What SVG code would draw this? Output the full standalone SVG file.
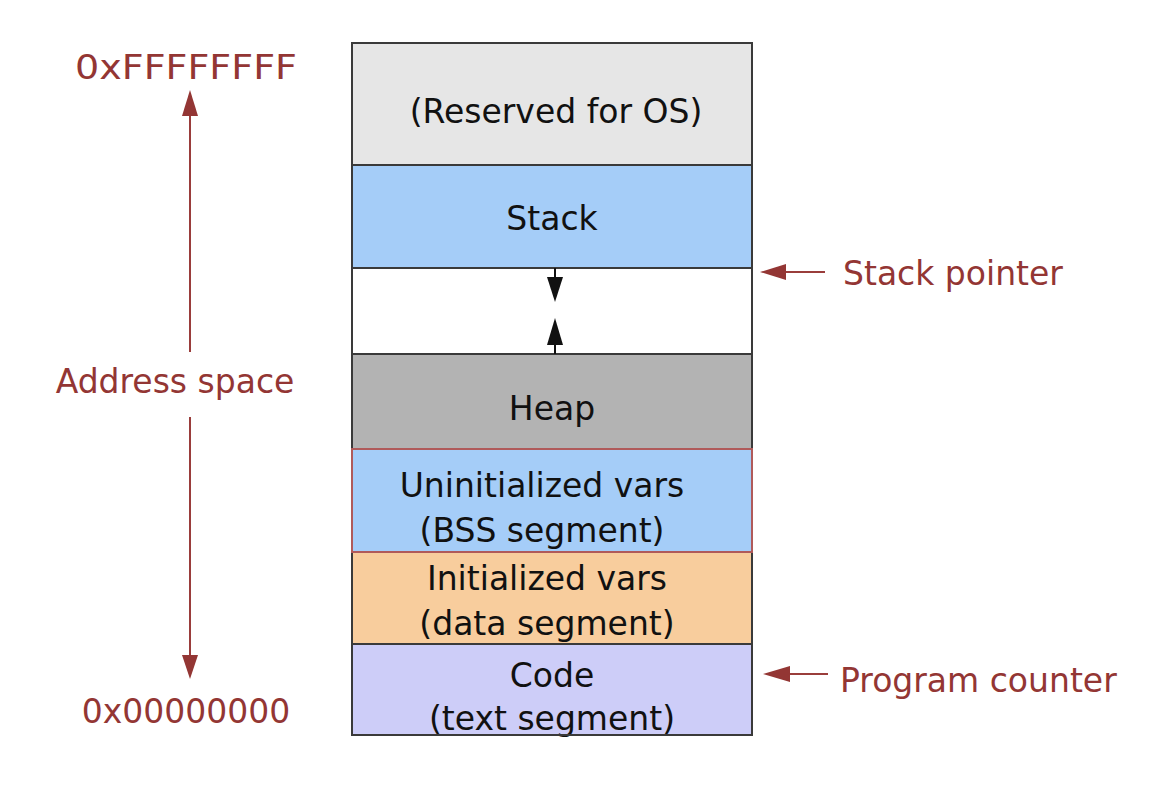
<svg xmlns="http://www.w3.org/2000/svg" width="1152" height="798" viewBox="0 0 1152 798">
<style>
.seg{stroke:#3a3a3a;stroke-width:2}
.lbl{font-family:"DejaVu Sans","Liberation Sans",sans-serif;font-size:33px;fill:#111;text-anchor:middle}
.red{font-family:"DejaVu Sans","Liberation Sans",sans-serif;font-size:33px;fill:#933634}
.rline{stroke:#9a3d3b;stroke-width:2;fill:none}
.rhead{fill:#933634}
.bline{stroke:#111;stroke-width:2}
.bhead{fill:#111}
</style>
<rect width="1152" height="798" fill="#ffffff"/>
<g id="memory">
<g id="reserved"><rect class="seg" x="352" y="43" width="400" height="122" fill="#e6e6e6"/><text class="lbl" x="556" y="123">(Reserved for OS)</text></g>
<g id="stack"><rect class="seg" x="352" y="165" width="400" height="103" fill="#a5cdf8"/><text class="lbl" x="552" y="230">Stack</text></g>
<g id="free"><rect class="seg" x="352" y="268" width="400" height="86" fill="#ffffff"/></g>
<g id="heap"><rect class="seg" x="352" y="354" width="400" height="95" fill="#b3b3b3"/><text class="lbl" x="552" y="420">Heap</text></g>
<g id="bss"><rect x="352" y="449" width="400" height="103" fill="#a5cdf8" stroke="#b05a5a" stroke-width="2"/><text class="lbl" x="542" y="497">Uninitialized vars</text><text class="lbl" x="542" y="542">(BSS segment)</text></g>
<g id="data"><rect class="seg" x="352" y="552" width="400" height="92" fill="#f8cd9d"/><text class="lbl" x="547" y="590">Initialized vars</text><text class="lbl" x="547" y="635">(data segment)</text></g>
<g id="code"><rect class="seg" x="352" y="644" width="400" height="91" fill="#cdcdf8"/><text class="lbl" x="552" y="687">Code</text><text class="lbl" x="552" y="730">(text segment)</text></g>
<rect x="352" y="43" width="400" height="692" fill="none" stroke="#3a3a3a" stroke-width="2"/>
<rect x="352" y="449" width="400" height="103" fill="none" stroke="#b05a5a" stroke-width="2"/>
</g>
<g id="labels">
<g id="addr-top"><text class="red" x="75" y="79" textLength="222" lengthAdjust="spacingAndGlyphs">0xFFFFFFFF</text></g>
<g id="addr-space"><text class="red" x="175" y="393" text-anchor="middle">Address space</text></g>
<g id="addr-bottom"><text class="red" x="186" y="723" text-anchor="middle">0x00000000</text></g>
<g id="stack-pointer"><text class="red" x="843" y="285">Stack pointer</text></g>
<g id="program-counter"><text class="red" x="840" y="692">Program counter</text></g>
</g>
<g id="connectors">
<line class="rline" x1="190" y1="114" x2="190" y2="352"/>
<polygon class="rhead" points="190,90 182,116 198,116"/>
<line class="rline" x1="190" y1="417" x2="190" y2="657"/>
<polygon class="rhead" points="190,679 182,655 198,655"/>
<line class="rline" x1="783" y1="272" x2="825" y2="272"/>
<polygon class="rhead" points="760,272 786,264 786,280"/>
<line class="rline" x1="788" y1="674" x2="828" y2="674"/>
<polygon class="rhead" points="763,674 790,666 790,682"/>
<line class="bline" x1="555" y1="268" x2="555" y2="279"/>
<polygon class="bhead" points="555,302 547,277 563,277"/>
<line class="bline" x1="555" y1="343" x2="555" y2="354"/>
<polygon class="bhead" points="555,318 547,345 563,345"/>
</g>
</svg>
